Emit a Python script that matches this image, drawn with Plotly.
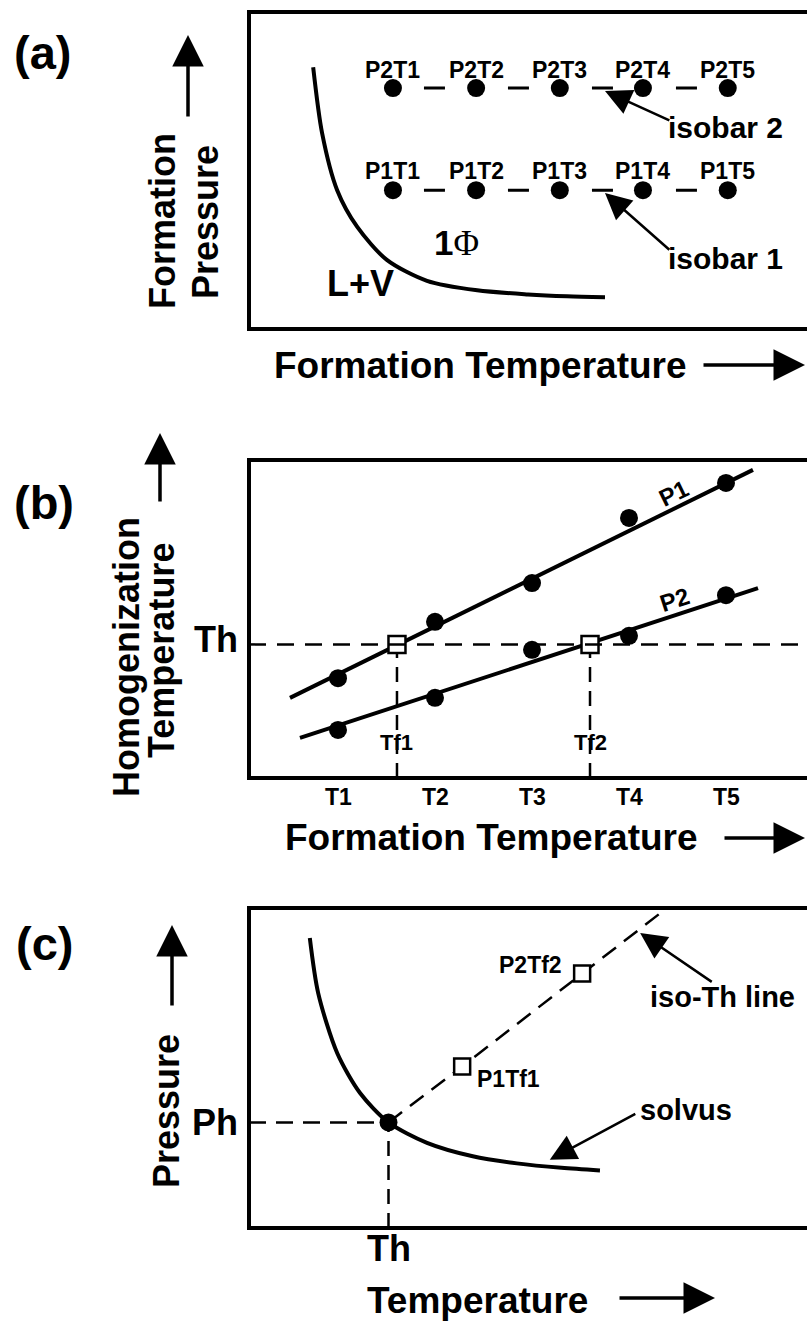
import plotly.graph_objects as go

W, H = 807, 1321
BLACK = "black"
SANS = "Liberation Sans, Arial, Helvetica, sans-serif"

# ---------------- data ----------------
# panel (a): formation P-T conditions
a_temps = [25.8, 40.7, 55.7, 70.6, 85.8]
a_p1, a_p2 = 43.8, 76.0
a_labels_p1 = ["P1T1", "P1T2", "P1T3", "P1T4", "P1T5"]
a_labels_p2 = ["P2T1", "P2T2", "P2T3", "P2T4", "P2T5"]
a_curve_x = [11.5, 13.1, 15.8, 19.4, 24.7, 31.9, 40.9, 50.0, 57.0, 63.8]
a_curve_y = [82.6, 61.8, 43.8, 32.2, 21.8, 15.2, 12.2, 10.9, 10.3, 10.0]

# panel (b): homogenization temperature vs formation temperature
b_T = [1, 2, 3, 4, 5]
b_ticks = ["T1", "T2", "T3", "T4", "T5"]
b_p1_th = [31.4, 49.1, 61.3, 81.8, 92.8]
b_p2_th = [15.1, 25.2, 40.3, 44.7, 57.5]
b_p1_fit_x, b_p1_fit_y = [0.505, 5.278], [25.2, 96.9]
b_p2_fit_x, b_p2_fit_y = [0.608, 5.33], [12.6, 59.7]
b_Th = 42.0
b_Tf = [1.608, 3.598]
b_Tf_labels = ["Tf1", "Tf2"]

# panel (c): P-T diagram with solvus and iso-Th line
c_solvus_x = [10.9, 12.4, 15.8, 19.9, 25.0, 31.9, 40.1, 48.0, 56.0, 62.9]
c_solvus_y = [90.6, 73.4, 54.7, 42.2, 33.0, 26.6, 22.4, 20.2, 18.8, 18.0]
c_Th, c_Ph = 25.0, 33.0
c_iso_x = [25.0, 38.2, 59.7, 74.9]
c_iso_y = [33.0, 50.5, 79.5, 100.0]
c_sq_x, c_sq_y = [38.2, 59.7], [50.5, 79.5]
c_sq_labels = ["P1Tf1", "P2Tf2"]

# ---------------- layout helpers ----------------
def px(x):
    return x / W

def py(y):
    return 1 - y / H

XL = 249
PANELS = {"a": (12, 329), "b": (460, 778), "c": (908, 1228)}

fig = go.Figure()

def axis_cfg(rng, dom):
    return dict(range=rng, domain=dom, visible=False, fixedrange=True)

layout = dict(
    width=W, height=H, margin=dict(l=0, r=0, t=0, b=0),
    paper_bgcolor="white", plot_bgcolor="white", showlegend=False,
    xaxis=axis_cfg([0, 100], [px(XL), 1]),
    yaxis=axis_cfg([0, 100], [py(PANELS["a"][1]), py(PANELS["a"][0])]),
    xaxis2=axis_cfg([0.0825, 5.835], [px(XL), 1]),
    yaxis2=axis_cfg([0, 100], [py(PANELS["b"][1]), py(PANELS["b"][0])]),
    xaxis3=axis_cfg([0, 100], [px(XL), 1]),
    yaxis3=axis_cfg([0, 100], [py(PANELS["c"][1]), py(PANELS["c"][0])]),
)
for i in ["", "2", "3"]:
    layout["yaxis" + i]["anchor"] = "x" + i
    layout["xaxis" + i]["anchor"] = "y" + i

shapes = []
annotations = []

# boxes (open at the right, which is cropped)
for key, (top, bot) in PANELS.items():
    shapes.append(dict(
        type="path", xref="paper", yref="paper",
        path=f"M 1.02,{py(top)} L {px(XL)},{py(top)} L {px(XL)},{py(bot)} L 1.02,{py(bot)}",
        line=dict(color=BLACK, width=4)))

def text(t, x, y, size, xref="paper", yref="paper", xanchor="center",
         yanchor="middle", angle=0, weight="bold", family=SANS):
    annotations.append(dict(
        text=t, x=x, y=y, xref=xref, yref=yref, xanchor=xanchor, yanchor=yanchor,
        showarrow=False, textangle=angle,
        font=dict(family=family, size=size, color=BLACK, weight=weight)))

def arrow_px(tip, tail, width=3.5, size=1.8):
    annotations.append(dict(
        text="", x=px(tip[0]), y=py(tip[1]), xref="paper", yref="paper",
        ax=tail[0] - tip[0], ay=tail[1] - tip[1], axref="pixel", ayref="pixel",
        showarrow=True, arrowhead=2, arrowsize=size, arrowwidth=width,
        arrowcolor=BLACK, standoff=0, startstandoff=0))

def arrow_data(tip, tail, xr, yr, width=2.5, size=2.1):
    annotations.append(dict(
        text="", x=tip[0], y=tip[1], xref=xr, yref=yr,
        ax=tail[0], ay=tail[1], axref=xr, ayref=yr,
        showarrow=True, arrowhead=2, arrowsize=size, arrowwidth=width,
        arrowcolor=BLACK, standoff=0, startstandoff=0))

# ---------------- panel (a) ----------------
fig.add_trace(go.Scatter(x=a_curve_x, y=a_curve_y, mode="lines",
                         line=dict(color=BLACK, width=4, shape="spline", smoothing=0.8),
                         xaxis="x", yaxis="y", hoverinfo="skip"))
for p, labels, ly in [(a_p1, a_labels_p1, 50.0), (a_p2, a_labels_p2, 81.6)]:
    fig.add_trace(go.Scatter(x=a_temps, y=[p] * len(a_temps), mode="lines+markers",
                             line=dict(color=BLACK, width=3, dash="0px,31px,21px,32px"),
                             marker=dict(color=BLACK, size=18),
                             xaxis="x", yaxis="y", hoverinfo="skip"))
    for t, lab in zip(a_temps, labels):
        text(lab, t, ly, 23, xref="x", yref="y")

text("1<span style='font-family:Liberation Serif, Times New Roman, serif;font-weight:normal'>Φ</span>",
     37.1, 27.1, 35, xref="x", yref="y")
text("L+V", 19.9, 14.5, 36, xref="x", yref="y")
text("isobar 2", 74.8, 63.6, 30, xref="x", yref="y", xanchor="left")
text("isobar 1", 74.8, 22.2, 30, xref="x", yref="y", xanchor="left")
arrow_data((63.8, 75.1), (75.6, 65.6), "x", "y")
arrow_data((63.8, 42.9), (75.6, 24.6), "x", "y")

text("(a)", px(42), py(52), 47)
text("Formation", px(162), py(221), 36, angle=-90)
text("Pressure", px(205), py(222), 36, angle=-90)
arrow_px((188, 35), (188, 118))
text("Formation Temperature", px(481), py(366), 37)
arrow_px((805, 365), (702, 365))

# ---------------- panel (b) ----------------
shapes.append(dict(type="line", xref="x2 domain", yref="y2", x0=0, x1=1, y0=b_Th, y1=b_Th,
                   line=dict(color=BLACK, width=2.5, dash="17px,11px")))
for tf in b_Tf:
    fig.add_trace(go.Scatter(x=[tf, tf], y=[0, b_Th], mode="lines",
                             line=dict(color=BLACK, width=2.5, dash="15px,9px"),
                             xaxis="x2", yaxis="y2", hoverinfo="skip"))
for fx, fy in [(b_p1_fit_x, b_p1_fit_y), (b_p2_fit_x, b_p2_fit_y)]:
    fig.add_trace(go.Scatter(x=fx, y=fy, mode="lines", line=dict(color=BLACK, width=4),
                             xaxis="x2", yaxis="y2", hoverinfo="skip"))
for ys in [b_p1_th, b_p2_th]:
    fig.add_trace(go.Scatter(x=b_T, y=ys, mode="markers",
                             marker=dict(color=BLACK, size=18),
                             xaxis="x2", yaxis="y2", hoverinfo="skip"))
fig.add_trace(go.Scatter(x=b_Tf, y=[b_Th] * len(b_Tf), mode="markers",
                         marker=dict(symbol="square", color="white", size=17,
                                     line=dict(color=BLACK, width=2.5)),
                         xaxis="x2", yaxis="y2", hoverinfo="skip"))
for t, lab in zip(b_T, b_ticks):
    text(lab, t, py(797), 23, xref="x2", yref="paper")
for tf, lab in zip(b_Tf, b_Tf_labels):
    text(lab, tf, 11.3, 22, xref="x2", yref="y2")
text("P1", 4.454, 89.5, 24, xref="x2", yref="y2", angle=-26)
text("P2", 4.474, 56.0, 24, xref="x2", yref="y2", angle=-18)
text("Th", px(240), b_Th + 1.5, 36, xref="paper", yref="y2", xanchor="right")

text("(b)", px(44), py(502), 47)
text("Homogenization", px(126), py(657), 36, angle=-90)
text("Temperature", px(161), py(651), 36, angle=-90)
arrow_px((160, 433), (160, 503))
text("Formation Temperature", px(492), py(837), 37)
arrow_px((805, 838), (723, 838))

# ---------------- panel (c) ----------------
fig.add_trace(go.Scatter(x=c_solvus_x, y=c_solvus_y, mode="lines",
                         line=dict(color=BLACK, width=4, shape="spline", smoothing=0.8),
                         xaxis="x3", yaxis="y3", hoverinfo="skip"))
fig.add_trace(go.Scatter(x=c_iso_x, y=c_iso_y, mode="lines",
                         line=dict(color=BLACK, width=2.5, dash="17px,10px"),
                         xaxis="x3", yaxis="y3", hoverinfo="skip"))
fig.add_trace(go.Scatter(x=[0, c_Th], y=[c_Ph, c_Ph], mode="lines",
                         line=dict(color=BLACK, width=2.5, dash="17px,10px"),
                         xaxis="x3", yaxis="y3", hoverinfo="skip"))
fig.add_trace(go.Scatter(x=[c_Th, c_Th], y=[0, c_Ph], mode="lines",
                         line=dict(color=BLACK, width=2.5, dash="15px,9px"),
                         xaxis="x3", yaxis="y3", hoverinfo="skip"))
fig.add_trace(go.Scatter(x=[c_Th], y=[c_Ph], mode="markers",
                         marker=dict(color=BLACK, size=18),
                         xaxis="x3", yaxis="y3", hoverinfo="skip"))
fig.add_trace(go.Scatter(x=c_sq_x, y=c_sq_y, mode="markers",
                         marker=dict(symbol="square", color="white", size=16,
                                     line=dict(color=BLACK, width=2.5)),
                         xaxis="x3", yaxis="y3", hoverinfo="skip"))
text(c_sq_labels[0], 40.5, 46.6, 23, xref="x3", yref="y3", xanchor="left")
text(c_sq_labels[1], 56.5, 82.2, 23, xref="x3", yref="y3", xanchor="right")
text("iso-Th line", 84.8, 72.2, 29, xref="x3", yref="y3")
text("solvus", 78.3, 36.9, 29, xref="x3", yref="y3")
arrow_data((70.1, 92.2), (83.2, 76.6), "x3", "y3")
arrow_data((53.9, 21.3), (69.5, 35.9), "x3", "y3")
text("Ph", px(240), c_Ph, 36, xref="paper", yref="y3", xanchor="right")
text("Th", c_Th, py(1248), 36, xref="x3", yref="paper")

text("(c)", px(44), py(943), 47)
text("Pressure", px(166), py(1111), 36, angle=-90)
arrow_px((172, 925), (172, 1007))
text("Temperature", px(478), py(1300), 37)
arrow_px((715, 1298), (618, 1298))

layout["shapes"] = shapes
layout["annotations"] = annotations
fig.update_layout(**layout)
fig.write_html("out.html")
